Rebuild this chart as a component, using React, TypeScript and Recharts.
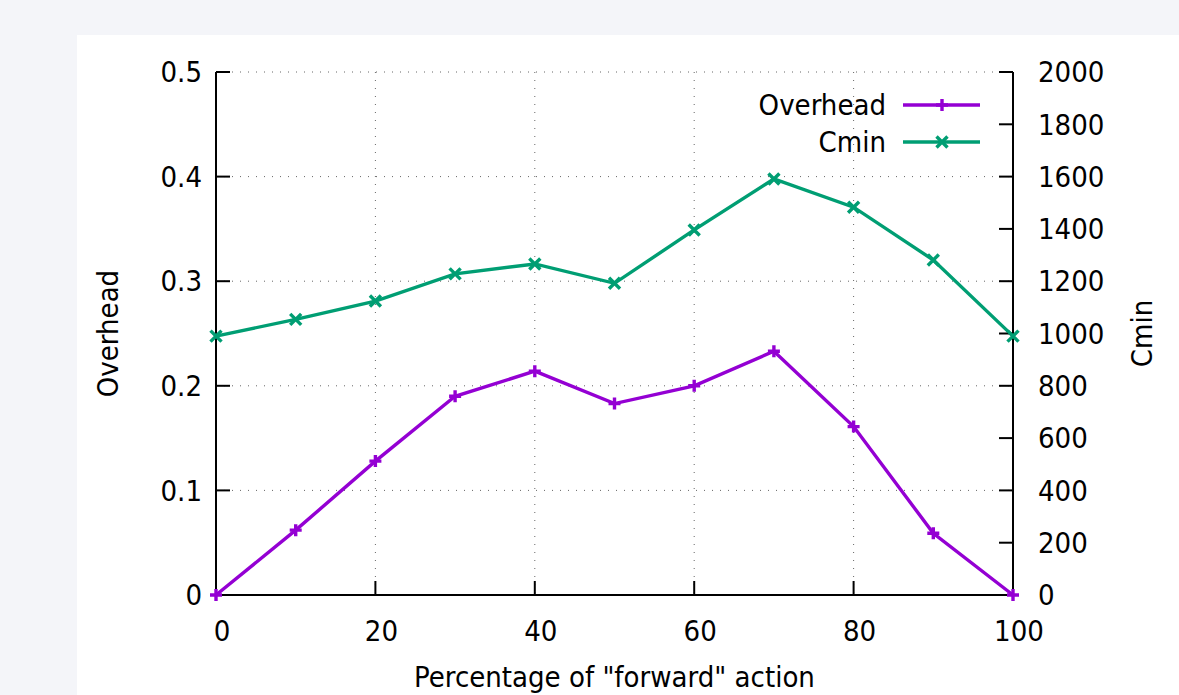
import React from "react";
import { LineChart, Line, XAxis, YAxis, CartesianGrid } from "recharts";

const xValues = [0, 10, 20, 30, 40, 50, 60, 70, 80, 90, 100];
const overhead = [0, 0.062, 0.128, 0.19, 0.214, 0.183, 0.2, 0.233, 0.161, 0.059, 0];
const cmin = [990, 1054, 1124, 1228, 1266, 1192, 1396, 1591, 1483, 1281, 990];

const xTicks = [0, 20, 40, 60, 80, 100];
const leftTicks = [0, 0.1, 0.2, 0.3, 0.4, 0.5];
const rightTicks = [0, 200, 400, 600, 800, 1000, 1200, 1400, 1600, 1800, 2000];

const data = xValues.map((x, i) => ({ x, overhead: overhead[i], cmin: cmin[i] }));

const PURPLE = "#9400d3";
const GREEN = "#009e73";
const FONT = "'DejaVu Sans Condensed', 'Noto Sans', sans-serif";
const FS = 29;

const tickText = { fill: "#000", fontSize: FS, fontFamily: FONT };
const tickLine = { stroke: "#000", strokeWidth: 2 };
const axisLine = { stroke: "#000", strokeWidth: 2 };

const plusPath = (cx: number, cy: number, r: number) =>
  `M${cx - r},${cy}H${cx + r}M${cx},${cy - r}V${cy + r}`;
const crossPath = (cx: number, cy: number, r: number) =>
  `M${cx - r},${cy - r}L${cx + r},${cy + r}M${cx - r},${cy + r}L${cx + r},${cy - r}`;

const PlusDot = (props: any) => (
  <path key={`p-${props.index}`} d={plusPath(props.cx, props.cy, 6)} stroke={PURPLE} strokeWidth={3.4} fill="none" />
);
const CrossDot = (props: any) => (
  <path key={`c-${props.index}`} d={crossPath(props.cx, props.cy, 5.5)} stroke={GREEN} strokeWidth={3.4} fill="none" />
);

export default function App() {
  return (
    <div style={{ position: "fixed", inset: 0, background: "#f4f5f9", overflow: "hidden" }}>
      <div style={{ position: "absolute", left: 77, top: 35, right: 0, bottom: 0, background: "#fff" }} />
      <div style={{ position: "absolute", left: 0, top: 0 }}>
        <LineChart width={1179} height={695} data={data} margin={{ top: 72, right: 40, bottom: 40, left: 100 }}>
          <CartesianGrid stroke="#666" strokeDasharray="1 7" />
          <XAxis
            dataKey="x"
            type="number"
            domain={[0, 100]}
            ticks={xTicks}
            height={60}
            tickSize={-14}
            tickMargin={39}
            tick={{ ...tickText, dx: 6 }}
            tickLine={tickLine}
            axisLine={axisLine}
            label={{
              content: (p: any) => (
                <text
                  x={p.viewBox.x + p.viewBox.width / 2}
                  y={p.viewBox.y + 92}
                  textAnchor="middle"
                  fill="#000"
                  fontSize={FS}
                  fontFamily={FONT}
                >
                  Percentage of "forward" action
                </text>
              ),
            }}
          />
          <XAxis
            xAxisId="top"
            orientation="top"
            dataKey="x"
            type="number"
            domain={[0, 100]}
            allowDataOverflow
            ticks={xTicks}
            height={0}
            tickSize={-14}
            tick={false}
            tickLine={tickLine}
            axisLine={axisLine}
          />
          <YAxis
            type="number"
            domain={[0, 0.5]}
            ticks={leftTicks}
            width={116}
            tickSize={-14}
            tickMargin={28}
            tick={tickText}
            tickLine={tickLine}
            axisLine={axisLine}
            label={{
              content: (p: any) => {
                const cx = p.viewBox.x + 18;
                const cy = p.viewBox.y + p.viewBox.height / 2;
                return (
                  <text x={cx} y={cy} transform={`rotate(-90 ${cx} ${cy})`} textAnchor="middle" fill="#000" fontSize={FS} fontFamily={FONT}>
                    Overhead
                  </text>
                );
              },
            }}
          />
          <YAxis
            yAxisId="right"
            orientation="right"
            type="number"
            domain={[0, 2000]}
            ticks={rightTicks}
            width={126}
            tickSize={-14}
            tickMargin={39}
            tick={tickText}
            tickLine={tickLine}
            axisLine={axisLine}
            label={{
              content: (p: any) => {
                const cx = p.viewBox.x + 139;
                const cy = p.viewBox.y + p.viewBox.height / 2;
                return (
                  <text x={cx} y={cy} transform={`rotate(-90 ${cx} ${cy})`} textAnchor="middle" fill="#000" fontSize={FS} fontFamily={FONT}>
                    Cmin
                  </text>
                );
              },
            }}
          />
          <Line
            dataKey="overhead"
            type="linear"
            stroke={PURPLE}
            strokeWidth={3.4}
            dot={PlusDot}
            activeDot={false}
            isAnimationActive={false}
          />
          <Line
            dataKey="cmin"
            yAxisId="right"
            type="linear"
            stroke={GREEN}
            strokeWidth={3.4}
            dot={CrossDot}
            activeDot={false}
            isAnimationActive={false}
          />
        </LineChart>
      </div>
      <svg width={260} height={80} style={{ position: "absolute", left: 740, top: 85 }}>
        <text x={146} y={30} textAnchor="end" fill="#000" fontSize={FS} fontFamily={FONT}>
          Overhead
        </text>
        <line x1={163} x2={240} y1={20} y2={20} stroke={PURPLE} strokeWidth={3.4} />
        <path d={plusPath(202, 20, 6)} stroke={PURPLE} strokeWidth={3.4} />
        <text x={146} y={67} textAnchor="end" fill="#000" fontSize={FS} fontFamily={FONT}>
          Cmin
        </text>
        <line x1={163} x2={240} y1={57} y2={57} stroke={GREEN} strokeWidth={3.4} />
        <path d={crossPath(202, 57, 5.5)} stroke={GREEN} strokeWidth={3.4} />
      </svg>
    </div>
  );
}
